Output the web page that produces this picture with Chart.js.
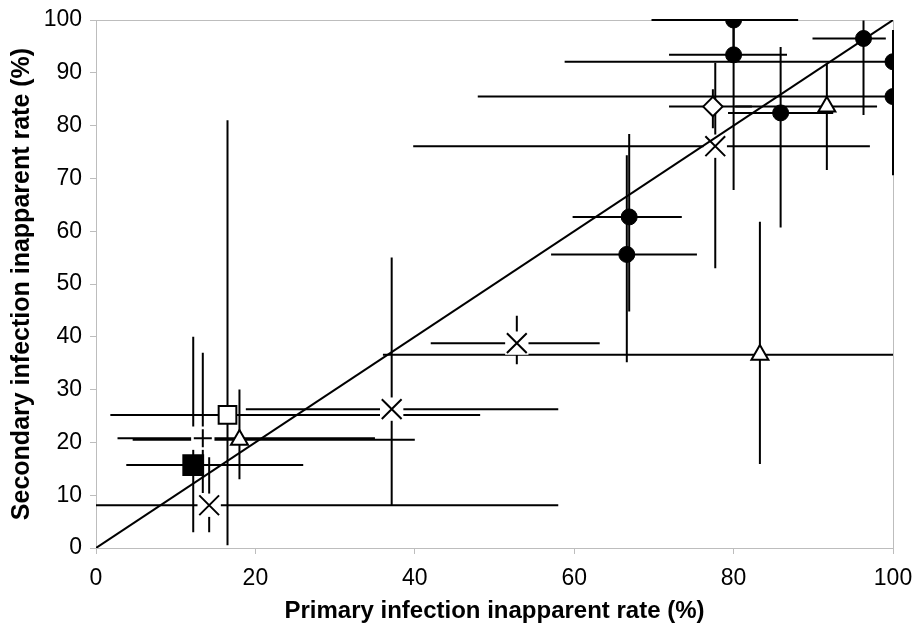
<!DOCTYPE html>
<html><head><meta charset="utf-8">
<script src="https://cdn.jsdelivr.net/npm/chart.js@4"></script>
<style>html,body{margin:0;padding:0;background:#fff;}#c{display:block}</style>
</head><body>
<canvas id="c" width="915" height="629" style="width:915px;height:629px"></canvas>
<script>
// ---- axis settings ----
const xTickStep = 20;
const yTickStep = 10;
const xTitle = 'Primary infection inapparent rate (%)';
const yTitle = 'Secondary infection inapparent rate (%)';

// ---- filled circles ----
const circX   = [80.0, 80.0, 96.3, 100.0, 100.0, 85.9, 66.9, 66.6];
const circY   = [100.0, 93.4, 96.5, 92.1, 85.5, 82.4, 62.7, 55.6];
const circXLo = [69.7, 71.9, 89.9, 58.8, 47.9, 79.3, 59.8, 57.1];
const circXHi = [88.1, 86.7, 99.1, 100.0, 100.0, 92.5, 73.5, 75.4];
const circYLo = [93.4, 67.8, 82.0, 80.0, 70.6, 60.7, 44.8, 35.2];
const circYHi = [100.0, 100.0, 99.9, 98.1, 92.1, 94.9, 78.4, 74.4];

// ---- open triangles ----
const triX   = [18.0, 83.3, 91.7];
const triY   = [20.5, 36.6, 83.6];
const triXLo = [4.6, 36.0, 80.2];
const triXHi = [40.0, 100.0, 98.0];
const triYLo = [13.0, 15.9, 71.6];
const triYHi = [30.0, 61.8, 91.8];

// ---- crosses (x) ----
const crossX   = [14.2, 37.1, 52.8, 77.7];
const crossY   = [8.1, 26.3, 38.8, 76.1];
const crossXLo = [0.0, 18.8, 42.0, 39.8];
const crossXHi = [58.0, 58.0, 63.2, 97.1];
const crossYLo = [3.0, 8.1, 34.8, 53.0];
const crossYHi = [17.2, 55.0, 44.0, 91.9];

// ---- open square ----
const osqX = [16.5], osqY = [25.2];
const osqXLo = [1.8], osqXHi = [48.2], osqYLo = [0.5], osqYHi = [81.0];

// ---- filled square ----
const fsqX = [12.2], fsqY = [15.7];
const fsqXLo = [3.8], fsqXHi = [26.0], fsqYLo = [3.0], fsqYHi = [40.0];

// ---- open diamond ----
const diaX = [77.4], diaY = [83.6];
const diaXLo = [71.9], diaXHi = [82.3], diaYLo = [79.5], diaYHi = [86.9];

// ---- plus ----
const plusX = [13.4], plusY = [20.8];
const plusXLo = [2.7], plusXHi = [35.0], plusYLo = [10.4], plusYHi = [37.0];

// ---- identity line ----
const lineX = [0, 100];
const lineY = [0, 100];

const FONT = "'Liberation Sans', Arial, Helvetica, sans-serif";
const AXIS_GRAY = '#bdbdbd';

function pts(xs, ys){ return xs.map((v,i)=>({x:v, y:ys[i]})); }
function series(label, xs, ys, xl, xh, yl, yh, style){
  return Object.assign({
    label, data: pts(xs, ys),
    err: {xl, xh, yl, yh},
    borderColor:'#000', borderWidth:2, showLine:false
  }, style);
}

const datasets = [
  series('plus', plusX, plusY, plusXLo, plusXHi, plusYLo, plusYHi,
    {pointStyle:'cross', pointRadius:9, backgroundColor:'#fff'}),
  series('crosses', crossX, crossY, crossXLo, crossXHi, crossYLo, crossYHi,
    {pointStyle:'crossRot', pointRadius:14, backgroundColor:'#fff'}),
  series('diamond', diaX, diaY, diaXLo, diaXHi, diaYLo, diaYHi,
    {pointStyle:'rectRot', pointRadius:9.7, backgroundColor:'#fff'}),
  series('triangles', triX, triY, triXLo, triXHi, triYLo, triYHi,
    {pointStyle:'triangle', pointRadius:9.8, backgroundColor:'#fff'}),
  series('open square', osqX, osqY, osqXLo, osqXHi, osqYLo, osqYHi,
    {pointStyle:'rect', pointRadius:12.5, backgroundColor:'#fff'}),
  series('filled square', fsqX, fsqY, fsqXLo, fsqXHi, fsqYLo, fsqYHi,
    {pointStyle:'rect', pointRadius:14, backgroundColor:'#000'}),
  series('circles', circX, circY, circXLo, circXHi, circYLo, circYHi,
    {pointStyle:'circle', pointRadius:8, backgroundColor:'#000', borderWidth:1}),
  {label:'identity', data: pts(lineX, lineY), showLine:true, borderColor:'#000',
   borderWidth:2, pointRadius:0, fill:false},
  // white marker backgrounds behind the x and + markers
  {label:'bg', data: pts(crossX.concat(plusX), crossY.concat(plusY)), showLine:false,
   pointStyle:'rect', pointRadius:16.5, backgroundColor:'#fff', borderWidth:0, borderColor:'#fff'}
];

const errorBars = {
  id:'errorBars',
  beforeDatasetsDraw(chart){
    const {ctx, chartArea:a, scales:{x, y}} = chart;
    ctx.save();
    ctx.strokeStyle = AXIS_GRAY; ctx.lineWidth = 1;
    ctx.strokeRect(Math.round(a.left)+0.5, Math.round(a.top)+0.5,
                   Math.round(a.right-a.left), Math.round(a.bottom-a.top));
    ctx.strokeStyle = '#000'; ctx.lineWidth = 2; ctx.lineCap = 'butt';
    chart.data.datasets.forEach(ds=>{
      if(!ds.err) return;
      const e = ds.err;
      ds.data.forEach((p,i)=>{
        const px = x.getPixelForValue(p.x), py = y.getPixelForValue(p.y);
        ctx.beginPath();
        ctx.moveTo(x.getPixelForValue(e.xl[i]), py);
        ctx.lineTo(x.getPixelForValue(e.xh[i]), py);
        ctx.moveTo(px, y.getPixelForValue(e.yl[i]));
        ctx.lineTo(px, y.getPixelForValue(e.yh[i]));
        ctx.stroke();
      });
    });
    ctx.restore();
  }
};

new Chart(document.getElementById('c'), {
  type:'scatter',
  data:{datasets},
  options:{
    responsive:false, animation:false,
    layout:{autoPadding:false, padding:{left:0, right:22, top:20, bottom:0}},
    plugins:{legend:{display:false}, tooltip:{enabled:false}},
    elements:{point:{hoverRadius:0}},
    scales:{
      x:{type:'linear', position:'bottom', min:0, max:100,
        ticks:{stepSize:xTickStep, color:'#000', padding:11, maxRotation:0,
               font:{family:FONT, size:23}},
        grid:{drawOnChartArea:false, drawTicks:true, tickLength:6, color:AXIS_GRAY},
        border:{display:true, color:AXIS_GRAY, width:1},
        title:{display:true, text:xTitle, color:'#000', padding:{top:0, bottom:3},
               font:{family:FONT, size:24, weight:'bold'}},
        afterFit(s){ s.height = 81; s.paddingLeft = 0; s.paddingRight = 0; }
      },
      y:{type:'linear', position:'left', min:0, max:100,
        ticks:{stepSize:yTickStep, color:'#000', padding:8,
               font:{family:FONT, size:23}},
        grid:{drawOnChartArea:false, drawTicks:true, tickLength:6, color:AXIS_GRAY},
        border:{display:true, color:AXIS_GRAY, width:1},
        title:{display:true, text:yTitle, color:'#000', padding:{top:7, bottom:0},
               font:{family:FONT, size:25, weight:'bold'}},
        afterFit(s){ s.width = 96; s.paddingTop = 0; s.paddingBottom = 0; }
      }
    }
  },
  plugins:[errorBars]
});
</script>
</body></html>
